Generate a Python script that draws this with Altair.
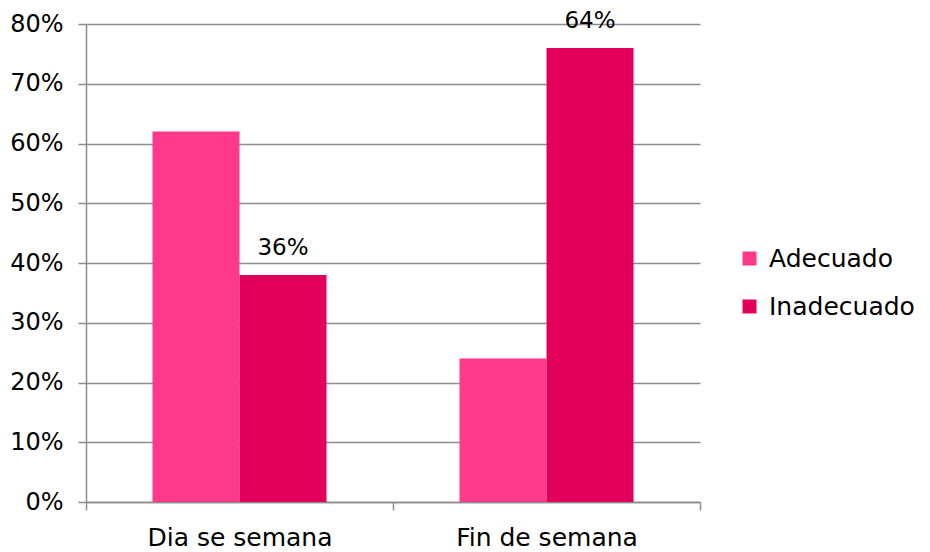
import altair as alt
import pandas as pd

categories = ["Dia se semana", "Dia se semana", "Fin de semana", "Fin de semana"]
series = ["Adecuado", "Inadecuado", "Adecuado", "Inadecuado"]
values = [0.62, 0.38, 0.24, 0.76]
labels = ["", "36%", "", "64%"]

df = pd.DataFrame({"cat": categories, "serie": series, "val": values, "lab": labels})

FONT = "DejaVu Sans"
color_scale = alt.Scale(domain=["Adecuado", "Inadecuado"], range=["#FF3A8B", "#E3005A"])

x = alt.X("cat:N", title=None, scale=alt.Scale(paddingInner=0, paddingOuter=0),
          axis=alt.Axis(labelAngle=0, tickBand="extent", tickSize=8, labelPadding=15, labelLimit=0,
                        domainColor="#8c8c8c", tickColor="#8c8c8c", domainWidth=1.5, tickWidth=1.5,
                        labelFont=FONT, labelFontSize=25, labelColor="#000000"))
y = alt.Y("val:Q", title=None, scale=alt.Scale(domain=[0, 0.8], nice=False),
          axis=alt.Axis(format=".0%", values=[0, 0.1, 0.2, 0.3, 0.4, 0.5, 0.6, 0.7, 0.8],
                        tickSize=8, labelPadding=15, domainColor="#8c8c8c", tickColor="#8c8c8c",
                        domainWidth=1.5, tickWidth=1.5, gridColor="#8c8c8c", gridWidth=1.5,
                        labelFont=FONT, labelFontSize=24, labelColor="#000000"))
xo = alt.XOffset("serie:N", scale=alt.Scale(paddingOuter=0.764, paddingInner=0))

bars = alt.Chart(df).mark_bar().encode(
    x=x, y=y, xOffset=xo,
    color=alt.Color("serie:N", scale=color_scale, title=None,
                    legend=alt.Legend(orient="none", legendX=651, legendY=222,
                                      symbolType="square", symbolSize=196, symbolStrokeWidth=0,
                                      labelFont=FONT, labelFontSize=25, labelColor="#000000",
                                      labelLimit=0, rowPadding=22, labelOffset=7))
)

text = alt.Chart(df).transform_filter("datum.lab != ''").mark_text(
    baseline="bottom", dy=-15, font=FONT, fontSize=23, color="#000000"
).encode(x=x, y=y, xOffset=xo, text="lab:N")

chart = (bars + text).properties(
    width=614, height=478,
    autosize=alt.AutoSizeParams(type="none"),
    padding={"left": 78, "top": 16, "right": 222, "bottom": 50},
).configure_view(stroke=None).configure_axisX(grid=False)

chart.save("out.html", embed_options={"renderer": "svg", "actions": False})
